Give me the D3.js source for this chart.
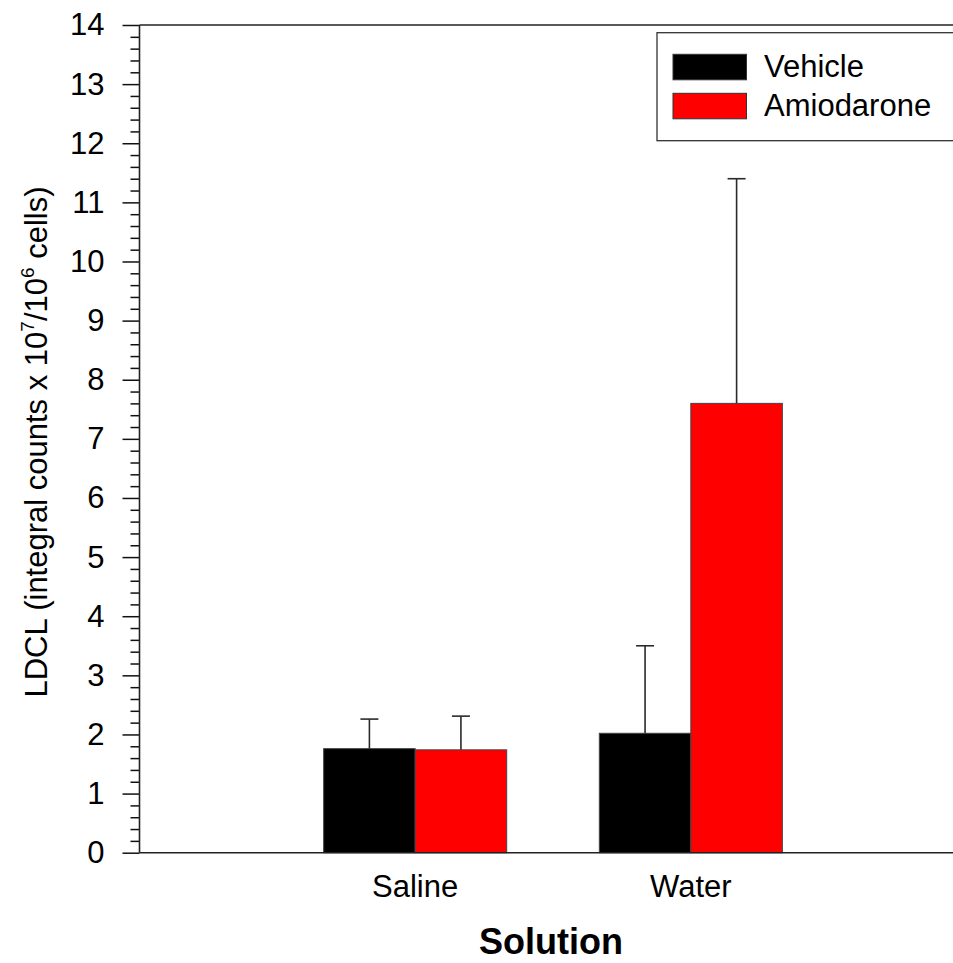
<!DOCTYPE html>
<html>
<head>
<meta charset="utf-8">
<script src="https://cdn.jsdelivr.net/npm/d3@7"></script>
<style>
  html, body { margin: 0; padding: 0; background: #fff; }
  svg { display: block; font-family: Arial, "Liberation Sans", sans-serif; }
</style>
</head>
<body>
<svg id="chart" width="953" height="963"></svg>
<script>
// Group labels and the two treatment series (mean and upper error)
const categories = ["Saline", "Water"];
const seriesNames = ["Vehicle", "Amiodarone"];
const vehicleMeans = [1.76, 2.02];
const vehicleErrors = [0.50, 1.48];
const amiodaroneMeans = [1.74, 7.60];
const amiodaroneErrors = [0.57, 3.80];
const seriesColors = ["#000000", "#ff0000"];
const yTickValues = [0, 1, 2, 3, 4, 5, 6, 7, 8, 9, 10, 11, 12, 13, 14];

const series = [
  { name: seriesNames[0], color: seriesColors[0], means: vehicleMeans, errors: vehicleErrors },
  { name: seriesNames[1], color: seriesColors[1], means: amiodaroneMeans, errors: amiodaroneErrors }
];

const svg = d3.select("#chart");

const plot = { left: 139.5, right: 966.5, top: 25, bottom: 852.7 };

// Categories sit at positions 1 and 2 of a 0..3 slot scale
const x = d3.scaleLinear().domain([0, categories.length + 1]).range([plot.left, plot.right]);
const slot = x(1) - x(0);
const barW = slot * 0.332;

const y = d3.scaleLinear().domain([0, 14]).range([plot.bottom, plot.top]);

// Bars
series.forEach((s, si) => {
  const offset = si === 0 ? -barW : 0;
  svg.append("g")
    .selectAll("rect")
    .data(s.means)
    .join("rect")
    .attr("x", (d, i) => x(i + 1) + offset)
    .attr("y", d => y(d))
    .attr("width", barW)
    .attr("height", d => y(0) - y(d))
    .attr("fill", s.color)
    .attr("stroke", "#444")
    .attr("stroke-width", 1);
});

// Upper error bars
series.forEach((s, si) => {
  const offset = si === 0 ? -barW / 2 : barW / 2;
  const g = svg.append("g").attr("stroke", "#2a2a2a").attr("stroke-width", 1.6);
  s.means.forEach((m, i) => {
    const cx = x(i + 1) + offset;
    const top = y(m + s.errors[i]);
    g.append("line").attr("x1", cx).attr("x2", cx).attr("y1", y(m)).attr("y2", top);
    g.append("line").attr("x1", cx - 9).attr("x2", cx + 9).attr("y1", top).attr("y2", top);
  });
});

// Y axis with major and minor ticks
const yAxis = d3.axisLeft(y).tickValues(yTickValues).tickSize(17).tickPadding(18).tickFormat(d3.format("d"));
const yG = svg.append("g").attr("transform", `translate(${plot.left},0)`).call(yAxis);
yG.select(".domain").remove();
yG.selectAll(".tick line").attr("stroke", "#111").attr("stroke-width", 1.5);
yG.selectAll(".tick text").attr("font-size", 31).attr("fill", "#000")
  .attr("font-family", "Arial, 'Liberation Sans', sans-serif");

const minorTicks = d3.range(0, 14.001, 0.2).filter(v => Math.abs(v - Math.round(v)) > 1e-6);
const yMinor = d3.axisLeft(y).tickValues(minorTicks).tickSize(9).tickFormat("");
const yMinorG = svg.append("g").attr("transform", `translate(${plot.left},0)`).call(yMinor);
yMinorG.select(".domain").remove();
yMinorG.selectAll(".tick line").attr("stroke", "#111").attr("stroke-width", 1.5);

// Frame lines: left axis, baseline, top
const frame = svg.append("g").attr("stroke", "#222").attr("stroke-width", 1.6);
frame.append("line").attr("x1", plot.left).attr("x2", plot.left).attr("y1", plot.top).attr("y2", plot.bottom);
frame.append("line").attr("x1", plot.left).attr("x2", 953).attr("y1", plot.bottom).attr("y2", plot.bottom);
frame.append("line").attr("x1", plot.left).attr("x2", 953).attr("y1", plot.top).attr("y2", plot.top);

// Category labels
svg.append("g")
  .selectAll("text")
  .data(categories)
  .join("text")
  .attr("x", (d, i) => x(i + 1))
  .attr("y", 897)
  .attr("text-anchor", "middle")
  .attr("font-size", 31)
  .text(d => d);

// Axis titles
svg.append("text")
  .attr("x", 551)
  .attr("y", 954)
  .attr("text-anchor", "middle")
  .attr("font-size", 36)
  .attr("font-weight", "bold")
  .text("Solution");

const yTitle = svg.append("text")
  .attr("transform", "translate(47,442) rotate(-90)")
  .attr("text-anchor", "middle")
  .attr("font-size", 31);
yTitle.append("tspan").text("LDCL (integral counts x 10");
yTitle.append("tspan").attr("font-size", 19).attr("dy", -13).text("7");
yTitle.append("tspan").attr("dy", 13).text("/10");
yTitle.append("tspan").attr("font-size", 19).attr("dy", -13).text("6");
yTitle.append("tspan").attr("dy", 13).text(" cells)");

// Legend
const legend = svg.append("g");
legend.append("rect")
  .attr("x", 657).attr("y", 32.7).attr("width", 320).attr("height", 108)
  .attr("fill", "#fff").attr("stroke", "#333").attr("stroke-width", 1.3);
series.forEach((s, i) => {
  const top = 54.3 + i * 39;
  legend.append("rect")
    .attr("x", 673).attr("y", top).attr("width", 73.5).attr("height", 25.5)
    .attr("fill", s.color).attr("stroke", "#333").attr("stroke-width", 1);
  legend.append("text")
    .attr("x", 764).attr("y", top + 22.5)
    .attr("font-size", 31)
    .text(s.name);
});
</script>
</body>
</html>
